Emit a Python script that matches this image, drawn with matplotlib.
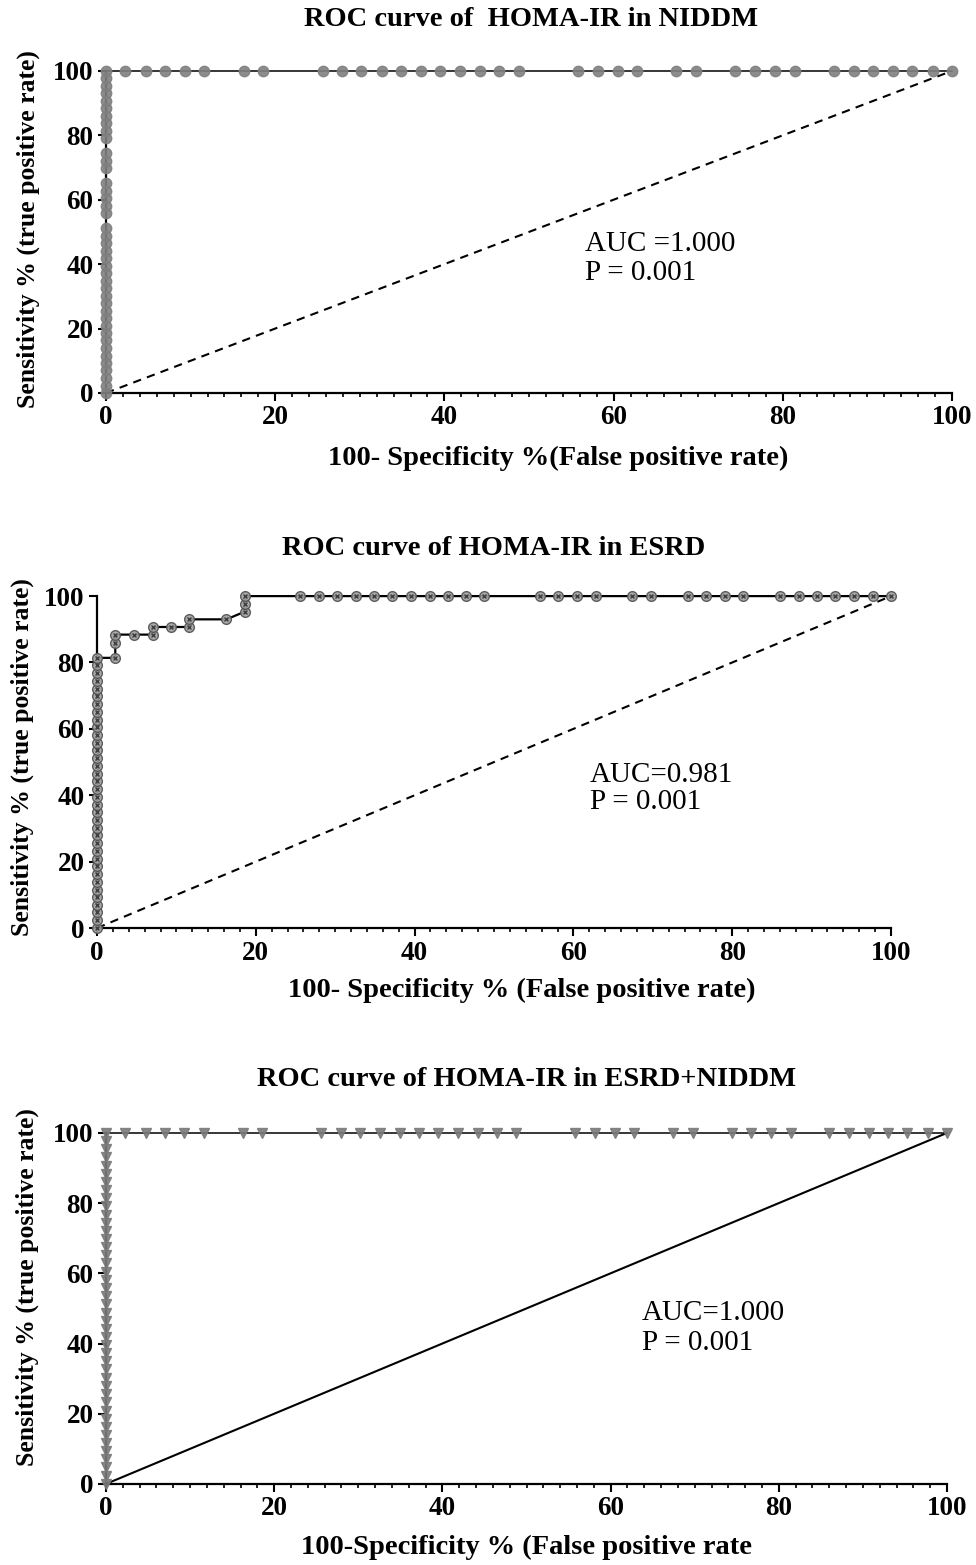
import matplotlib.pyplot as plt
from matplotlib.ticker import MultipleLocator

plt.rcParams['font.family'] = ['Liberation Serif', 'DejaVu Serif']

# ---------------------------------------------------------------------------
# data (percent)
# ---------------------------------------------------------------------------
# false-positive-rate values of the points on the 100 % sensitivity row
top_row_fpr = [0, 2.3, 4.7, 7.0, 9.3, 11.6, 16.3, 18.6, 25.6, 27.9, 30.2, 32.6,
               34.9, 37.2, 39.5, 41.9, 44.2, 46.5, 48.8, 55.8, 58.1, 60.5, 62.8,
               67.4, 69.8, 74.4, 76.7, 79.1, 81.4, 86.0, 88.4, 90.7, 93.0, 95.3,
               97.7, 100]
esrd_top_row_fpr = [25.6, 27.9, 30.2, 32.6, 34.9, 37.2, 39.5, 41.9, 44.2, 46.5,
                    48.8, 55.8, 58.1, 60.5, 62.8, 67.4, 69.8, 74.4, 76.7, 79.1,
                    81.4, 86.0, 88.4, 90.7, 93.0, 95.3, 97.7, 100]

# sensitivity values of the points sitting on the y axis (fpr = 0)
niddm_axis_sens = [0, 2.3, 4.7, 7.0, 9.3, 11.6, 14.0, 16.3, 18.6, 20.9, 23.3,
                   25.6, 27.9, 30.2, 32.6, 34.9, 37.2, 39.5, 41.9, 44.2, 46.5,
                   48.8, 51.2, 55.8, 58.1, 60.5, 62.8, 65.1, 69.8, 72.1, 74.4,
                   79.1, 81.4, 83.7, 86.0, 88.4, 90.7, 93.0, 95.3, 97.7]
esrd_axis_sens = [0, 2.3, 4.7, 7.0, 9.3, 11.6, 14.0, 16.3, 18.6, 20.9, 23.3,
                  25.6, 27.9, 30.2, 32.6, 34.9, 37.2, 39.5, 41.9, 44.2, 46.5,
                  48.8, 51.2, 53.5, 55.8, 58.1, 60.5, 62.8, 65.1, 67.4, 69.8,
                  72.1, 74.4, 76.7, 79.1, 81.4]
both_axis_sens = [0, 2.3, 4.7, 7.0, 9.3, 11.6, 14.0, 16.3, 18.6, 20.9, 23.3,
                  25.6, 27.9, 30.2, 32.6, 34.9, 37.2, 39.5, 41.9, 44.2, 46.5,
                  48.8, 51.2, 53.5, 55.8, 58.1, 60.5, 62.8, 65.1, 67.4, 69.8,
                  72.1, 74.4, 76.7, 79.1, 81.4, 83.7, 86.0, 88.4, 90.7, 93.0,
                  95.3, 97.7]

# ESRD: staircase part between the y axis and the 100 % row
esrd_step_fpr = [2.3, 2.3, 2.3, 4.7, 7.0, 7.0, 9.3, 11.6, 11.6, 16.3, 18.6, 18.6, 18.6]
esrd_step_sens = [81.4, 86.0, 88.4, 88.4, 88.4, 90.7, 90.7, 90.7, 93.0, 93.0, 95.3, 97.7, 100]

titles = ["ROC curve of  HOMA-IR in NIDDM",
          "ROC curve of HOMA-IR in ESRD",
          "ROC curve of HOMA-IR in ESRD+NIDDM"]
xlabels = ["100- Specificity %(False positive rate)",
           "100- Specificity % (False positive rate)",
           "100-Specificity % (False positive rate"]
auc_texts = ["AUC =1.000", "AUC=0.981", "AUC=1.000"]
p_texts = ["P = 0.001", "P = 0.001", "P = 0.001"]


def roc_points(axis_sens, row_fpr, step_fpr=(), step_sens=()):
    xs = [0] * len(axis_sens) + list(step_fpr) + list(row_fpr)
    ys = list(axis_sens) + list(step_sens) + [100] * len(row_fpr)
    return xs, ys


def style_axes(ax, xlabel, xlab_pos, ylab_pos):
    ax.set_xlim(0, 100)
    ax.set_ylim(0, 100)
    for s in ("top", "right"):
        ax.spines[s].set_visible(False)
    for s in ("left", "bottom"):
        ax.spines[s].set_linewidth(1.6)
    ax.xaxis.set_major_locator(MultipleLocator(20))
    ax.xaxis.set_minor_locator(MultipleLocator(2))
    ax.yaxis.set_major_locator(MultipleLocator(20))
    ax.tick_params(which="major", direction="out", length=6, width=1.5,
                   labelsize=19.5, pad=3)
    ax.tick_params(which="minor", axis="x", direction="out", length=3, width=1.2)
    for lab in ax.get_xticklabels() + ax.get_yticklabels():
        lab.set_fontweight("bold")
    ax.set_xlabel(xlabel, fontsize=20.5, fontweight="bold", va="center")
    ax.xaxis.set_label_coords(*xlab_pos)
    ax.set_ylabel("Sensitivity % (true positive rate)", fontsize=18.5,
                  fontweight="bold", va="center")
    ax.yaxis.set_label_coords(*ylab_pos)


fig = plt.figure(figsize=(9.76, 15.65), dpi=100)

# ─ Panel 1: NIDDM --------------------------------------------------------
ax1 = fig.add_axes([0.1086, 0.7489, 0.8668, 0.2058])
x, y = roc_points(niddm_axis_sens, top_row_fpr)
ax1.plot(x, y, color="black", lw=1.1, zorder=2, clip_on=False)
ax1.plot(x, y, ls="none", marker="o", ms=7.5, mfc="#808080", mec="#808080",
         alpha=0.9, zorder=3, clip_on=False)
ax1.plot([0, 100], [0, 100], color="black", ls=(0, (4, 3)), lw=1.5, zorder=1)
style_axes(ax1, xlabels[0], (0.535, -0.202), (-0.092, 0.51))
ax1.text(56.6, 46.3, auc_texts[0], fontsize=21, va="center")
ax1.text(56.6, 37.3, p_texts[0], fontsize=21, va="center")
fig.text(531 / 976, 1 - 20 / 1565, titles[0], fontsize=20.5, fontweight="bold",
         ha="center", va="center")

# ─ Panel 2: ESRD ---------------------------------------------------------
ax2 = fig.add_axes([0.0994, 0.4070, 0.8135, 0.2121])
x, y = roc_points(esrd_axis_sens, esrd_top_row_fpr, esrd_step_fpr, esrd_step_sens)
ax2.plot(x, y, color="black", lw=1.6, zorder=2, clip_on=False)
ax2.plot(x, y, ls="none", marker="o", ms=7, mfc="#a0a0a0", mec="#505050",
         mew=1.0, alpha=0.9, zorder=3, clip_on=False)
ax2.plot(x, y, ls="none", marker="x", ms=3.5, mec="#404040", mew=1.0,
         zorder=4, clip_on=False)
ax2.plot([0, 100], [0, 100], color="black", ls=(0, (4, 3)), lw=1.5, zorder=1)
style_axes(ax2, xlabels[1], (0.535, -0.187), (-0.094, 0.515))
ax2.text(62.1, 46.1, auc_texts[1], fontsize=21, va="center")
ax2.text(62.1, 38.0, p_texts[1], fontsize=21, va="center")
fig.text(494 / 976, 1 - 549 / 1565, titles[1], fontsize=20.5, fontweight="bold",
         ha="center", va="center")

# ─ Panel 3: ESRD+NIDDM ---------------------------------------------------
ax3 = fig.add_axes([0.1086, 0.0518, 0.8617, 0.2243])
x, y = roc_points(both_axis_sens, top_row_fpr)
ax3.plot(x, y, color="black", lw=1.1, zorder=2, clip_on=False)
ax3.plot(x, y, ls="none", marker="v", ms=7, mfc="#7a7a7a", mec="#7a7a7a",
         alpha=0.9, zorder=3, clip_on=False)
ax3.plot([0, 100], [0, 100], color="black", ls="-", lw=1.5, zorder=1)
style_axes(ax3, xlabels[2], (0.50, -0.182), (-0.093, 0.56))
ax3.text(63.7, 48.7, auc_texts[2], fontsize=21, va="center")
ax3.text(63.7, 40.2, p_texts[2], fontsize=21, va="center")
fig.text(527 / 976, 1 - 1080 / 1565, titles[2], fontsize=20.5, fontweight="bold",
         ha="center", va="center")

fig.savefig("out.png", dpi=100)
